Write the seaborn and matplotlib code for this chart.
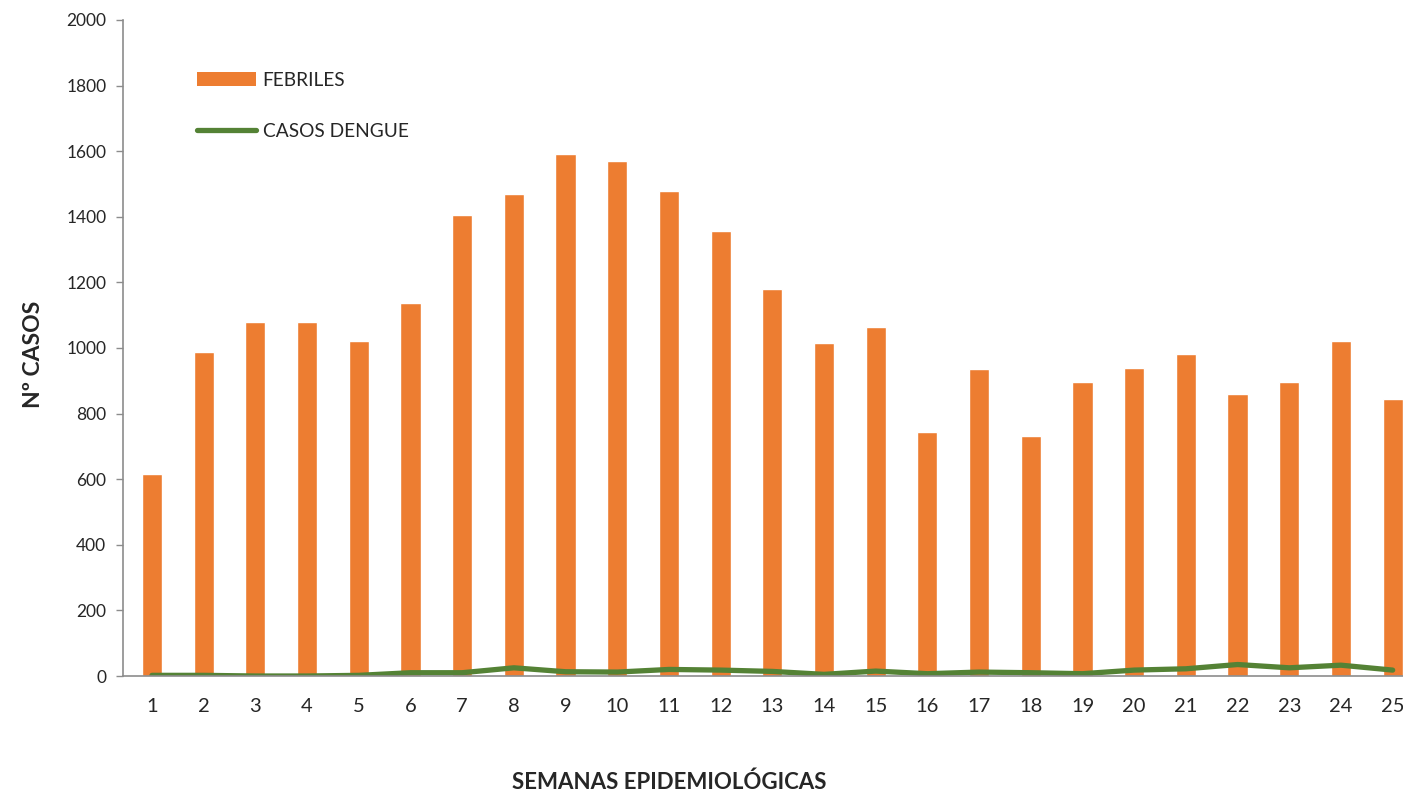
import pandas as pd
import matplotlib.pyplot as plt
import seaborn as sns
from matplotlib.patches import Patch
from matplotlib.lines import Line2D

# Data
semanas = list(range(1, 26))
febriles = [617, 988, 1079, 1079, 1021, 1137, 1405, 1470, 1591, 1570, 1479, 1357,
            1180, 1015, 1064, 744, 936, 732, 896, 939, 982, 860, 896, 1022, 845]
dengue = [2, 2, 0, 0, 2, 10, 10, 25, 13, 12, 20, 18, 14, 5, 15, 7, 12, 10, 7,
          18, 22, 35, 25, 33, 18]

ORANGE = "#ED7D31"
GREEN = "#548235"
GREY = "#8C8C8C"

df = pd.DataFrame({"semana": semanas, "febriles": febriles, "dengue": dengue})
df["pos"] = range(len(df))

sns.set_style("white")
plt.rcParams["font.family"] = ["Lato", "DejaVu Sans"]

fig = plt.figure(figsize=(14.03, 7.90), dpi=100)
ax = fig.add_axes([0.0877, 0.1443, 0.9123, 0.8304])

sns.barplot(data=df, x="semana", y="febriles", color=ORANGE, width=0.39,
            saturation=1, ax=ax)
sns.lineplot(data=df, x="pos", y="dengue", color=GREEN, linewidth=3.8, ax=ax)

ax.set_ylim(0, 2000)
ax.set_xlim(-0.56, 24.2)
ax.set_yticks(range(0, 2001, 200))
ax.tick_params(axis="y", labelsize=12.5, length=5, width=1, color=GREY, pad=7,
               left=True, direction="out")
ax.tick_params(axis="x", labelsize=14.5, length=0, pad=16)

for side in ["top", "right"]:
    ax.spines[side].set_visible(False)
for side in ["left", "bottom"]:
    ax.spines[side].set_color(GREY)
    ax.spines[side].set_linewidth(1.2)

ax.set_xlabel("SEMANAS EPIDEMIOLÓGICAS", fontsize=16, fontweight="bold")
ax.xaxis.set_label_coords(0.427, -0.145)
ax.set_ylabel("Nº CASOS", fontsize=16.5, fontweight="bold")
ax.yaxis.set_label_coords(-0.062, 0.49)

handles = [Patch(facecolor=ORANGE, edgecolor="none"),
           Line2D([0], [0], color=GREEN, linewidth=3.8)]
ax.legend(handles, ["FEBRILES", "CASOS DENGUE"], loc="upper left",
          bbox_to_anchor=(0.044, 0.947), frameon=False, fontsize=13.8,
          handlelength=3.1, handleheight=0.75, labelspacing=1.75, handletextpad=0.35)

plt.savefig("out.png", dpi=100)
plt.close()
